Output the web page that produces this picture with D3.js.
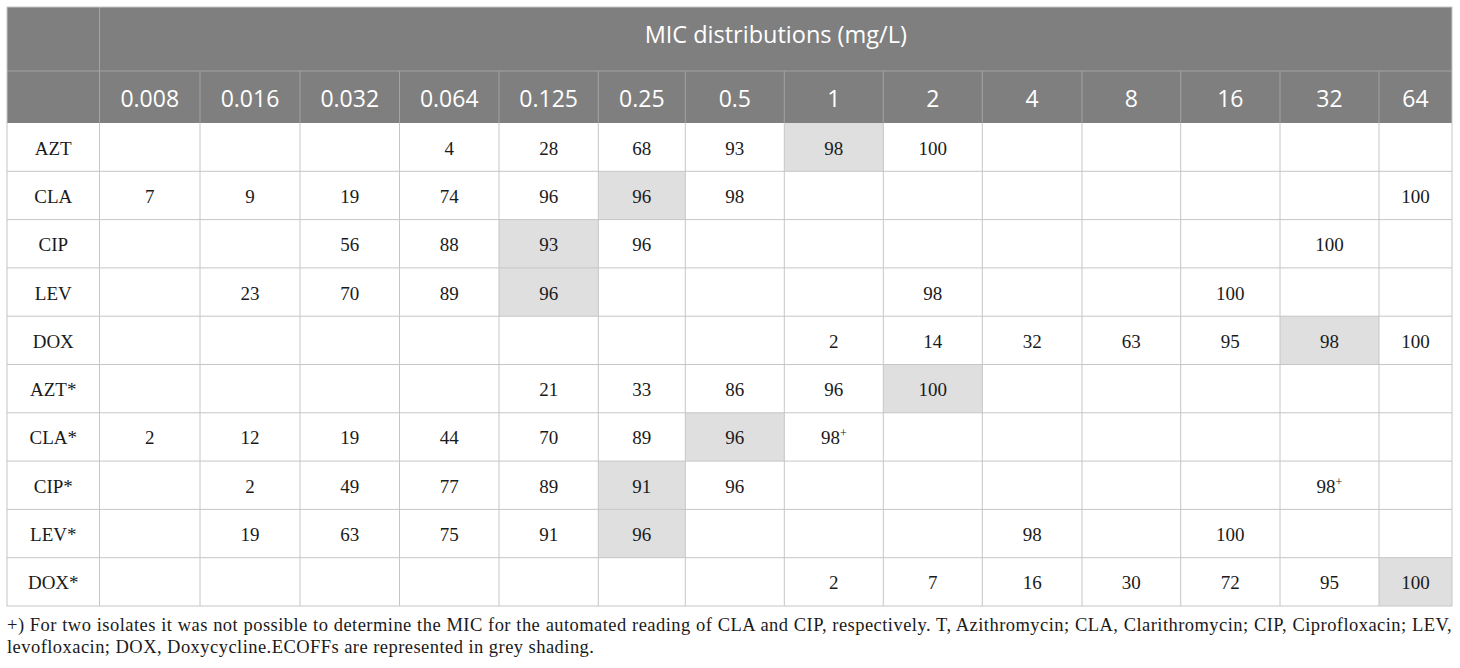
<!DOCTYPE html>
<html>
<head>
<meta charset="utf-8">
<script src="https://cdn.jsdelivr.net/npm/d3@7/dist/d3.min.js"></script>
<style>
  body { margin: 0; background: #fff; }
</style>
</head>
<body>
<div id="table"></div>
<script>
// table content
const title = "MIC distributions (mg/L)";
const concentrations = ["0.008", "0.016", "0.032", "0.064", "0.125", "0.25", "0.5", "1", "2", "4", "8", "16", "32", "64"];
const drugs = ["AZT", "CLA", "CIP", "LEV", "DOX", "AZT*", "CLA*", "CIP*", "LEV*", "DOX*"];

// cumulative % per concentration ("" = empty cell, "+" = footnote mark)
const AZT  = ["", "", "", "4", "28", "68", "93", "98", "100", "", "", "", "", ""];
const CLA  = ["7", "9", "19", "74", "96", "96", "98", "", "", "", "", "", "", "100"];
const CIP  = ["", "", "56", "88", "93", "96", "", "", "", "", "", "", "100", ""];
const LEV  = ["", "23", "70", "89", "96", "", "", "", "98", "", "", "100", "", ""];
const DOX  = ["", "", "", "", "", "", "", "2", "14", "32", "63", "95", "98", "100"];
const AZTa = ["", "", "", "", "21", "33", "86", "96", "100", "", "", "", "", ""];
const CLAa = ["2", "12", "19", "44", "70", "89", "96", "98+", "", "", "", "", "", ""];
const CIPa = ["", "2", "49", "77", "89", "91", "96", "", "", "", "", "", "98+", ""];
const LEVa = ["", "19", "63", "75", "91", "96", "", "", "", "98", "", "100", "", ""];
const DOXa = ["", "", "", "", "", "", "", "2", "7", "16", "30", "72", "95", "100"];

// ECOFF (grey shaded) concentration for each drug row
const ecoff = ["1", "0.25", "0.125", "0.125", "32", "2", "0.5", "0.25", "0.25", "64"];

const footnote = [
    "+) For two isolates it was not possible to determine the MIC for the automated reading of CLA and CIP, respectively. T, Azithromycin; CLA, Clarithromycin; CIP, Ciprofloxacin; LEV,",
    "levofloxacin; DOX, Doxycycline.ECOFFs are represented in grey shading."
];

const rows = [AZT, CLA, CIP, LEV, DOX, AZTa, CLAa, CIPa, LEVa, DOXa];

// layout
const width = 1460, height = 668;
const tableLeft = 7, tableTop = 7;
const colWidths = [92.5, 100.5, 100, 99.5, 99.5, 99.3, 87, 99, 99, 99, 99.7, 98.7, 99.3, 99, 73];
const edges = [tableLeft, ...d3.cumsum(colWidths).map(d => tableLeft + d)];
const tableRight = edges[edges.length - 1];
const titleH = 64, headH = 52;
const bodyTop = tableTop + titleH + headH, bodyBottom = 606;

const headFont = "'Open Sans', 'DejaVu Sans', sans-serif";
const bodyFont = "'Liberation Serif', 'DejaVu Serif', serif";

const cols = ["label", ...concentrations];
const x = d3.scaleOrdinal().domain(cols).range(edges.slice(0, -1));
const w = d3.scaleOrdinal().domain(cols).range(colWidths);
const y = d3.scaleBand().domain(drugs).range([bodyTop, bodyBottom]);

const svg = d3.select("#table")
    .append("svg")
    .attr("width", width)
    .attr("height", height);

// header background
svg.append("rect")
    .attr("x", tableLeft).attr("y", tableTop)
    .attr("width", tableRight - tableLeft).attr("height", titleH + headH)
    .attr("fill", "#7f7f7f");

// shaded ECOFF cells
svg.selectAll(".ecoff")
    .data(drugs.map((d, i) => ({drug: d, conc: ecoff[i]})))
    .enter()
    .append("rect")
    .attr("class", "ecoff")
    .attr("x", d => x(d.conc))
    .attr("y", d => y(d.drug))
    .attr("width", d => w(d.conc))
    .attr("height", y.bandwidth())
    .attr("fill", "#dfdfdf");

// header grid lines
const headLine = "#a3a3a3";
svg.append("line")
    .attr("x1", tableLeft).attr("x2", tableRight)
    .attr("y1", tableTop + titleH).attr("y2", tableTop + titleH)
    .attr("stroke", headLine).attr("stroke-width", 1);
svg.selectAll(".head-v")
    .data(concentrations.slice(1))
    .enter()
    .append("line")
    .attr("class", "head-v")
    .attr("x1", d => x(d)).attr("x2", d => x(d))
    .attr("y1", tableTop + titleH).attr("y2", bodyTop)
    .attr("stroke", headLine).attr("stroke-width", 1);
svg.append("line")
    .attr("x1", x("0.008")).attr("x2", x("0.008"))
    .attr("y1", tableTop).attr("y2", bodyTop)
    .attr("stroke", headLine).attr("stroke-width", 1);

// body grid lines
const gridLine = "#c6c6c6";
svg.selectAll(".body-h")
    .data(drugs.slice(1))
    .enter()
    .append("line")
    .attr("class", "body-h")
    .attr("x1", tableLeft).attr("x2", tableRight)
    .attr("y1", d => y(d)).attr("y2", d => y(d))
    .attr("stroke", gridLine).attr("stroke-width", 1);
svg.selectAll(".body-v")
    .data(concentrations)
    .enter()
    .append("line")
    .attr("class", "body-v")
    .attr("x1", d => x(d)).attr("x2", d => x(d))
    .attr("y1", bodyTop).attr("y2", bodyBottom)
    .attr("stroke", gridLine).attr("stroke-width", 1);

// outer border
svg.append("rect")
    .attr("x", tableLeft).attr("y", tableTop)
    .attr("width", tableRight - tableLeft).attr("height", bodyBottom - tableTop)
    .attr("fill", "none")
    .attr("stroke", gridLine).attr("stroke-width", 1);

// title
svg.append("text")
    .attr("x", (x("0.008") + tableRight) / 2)
    .attr("y", tableTop + 36)
    .attr("text-anchor", "middle")
    .attr("fill", "#fff")
    .style("font-family", headFont)
    .style("font-size", "23.5px")
    .text(title);

// concentration headers
svg.selectAll(".conc")
    .data(concentrations)
    .enter()
    .append("text")
    .attr("class", "conc")
    .attr("x", d => x(d) + w(d) / 2)
    .attr("y", tableTop + titleH + 36)
    .attr("text-anchor", "middle")
    .attr("fill", "#fff")
    .style("font-family", headFont)
    .style("font-size", "23px")
    .text(d => d);

// drug labels
svg.selectAll(".drug")
    .data(drugs)
    .enter()
    .append("text")
    .attr("class", "drug")
    .attr("x", x("label") + w("label") / 2)
    .attr("y", d => y(d) + y.bandwidth() / 2 + 7.5)
    .attr("text-anchor", "middle")
    .attr("fill", "#1a1a1a")
    .style("font-family", bodyFont)
    .style("font-size", "19px")
    .text(d => d);

// cell values
const cells = [];
rows.forEach((r, i) => r.forEach((v, j) => {
    if (v !== "") cells.push({drug: drugs[i], conc: concentrations[j], value: v});
}));

const cellText = svg.selectAll(".cell")
    .data(cells)
    .enter()
    .append("text")
    .attr("class", "cell")
    .attr("x", d => x(d.conc) + w(d.conc) / 2)
    .attr("y", d => y(d.drug) + y.bandwidth() / 2 + 7.5)
    .attr("text-anchor", "middle")
    .attr("fill", "#1a1a1a")
    .style("font-family", bodyFont)
    .style("font-size", "19px");

cellText.append("tspan")
    .text(d => d.value.replace("+", ""));
cellText.filter(d => d.value.endsWith("+"))
    .append("tspan")
    .attr("dy", -7)
    .style("font-size", "12px")
    .text("+");

// footnote, first line justified to table width
const notes = svg.selectAll(".note")
    .data(footnote)
    .enter()
    .append("text")
    .attr("class", "note")
    .attr("x", tableLeft)
    .attr("y", (d, i) => 631 + i * 22)
    .attr("fill", "#1a1a1a")
    .style("font-family", bodyFont)
    .style("font-size", "18.5px")
    .style("letter-spacing", "0.45px")
    .text(d => d);

notes.filter((d, i) => i === 0).each(function(d) {
    const len = this.getComputedTextLength();
    const gaps = d.split(" ").length - 1;
    d3.select(this).style("word-spacing", ((tableRight - tableLeft - len) / gaps) + "px");
});
</script>
</body>
</html>
